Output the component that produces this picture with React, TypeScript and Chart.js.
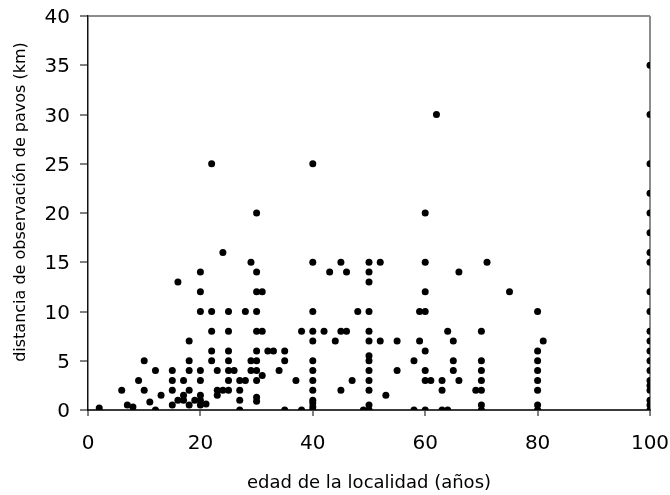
import React, { useEffect, useRef } from "react";
import { Chart, registerables } from "chart.js";

Chart.register(...registerables);

// edad de la localidad (años)
const edad: number[] = [
  2, 6, 7, 8, 9, 10, 10, 11, 12, 12, 13, 15, 15, 15, 15, 16, 16, 17, 17, 17,
  18, 18, 18, 18, 18, 19, 20, 20, 20, 20, 20, 20, 20, 20, 21, 22, 22, 22, 22, 22,
  23, 23, 23, 24, 24,
  25, 28, 30, 40, 48,
  25, 30, 31, 38, 40, 42, 45, 46,
  40, 44,
  25, 30, 32, 33, 35,
  25, 29, 30, 35, 40,
  25, 26, 29, 30, 34, 40,
  31,
  25, 27, 28, 30, 37, 40, 47,
  25, 27, 40, 45,
  27, 30, 30, 40, 40, 40, 40,
  27, 35, 38,
  29, 30, 30, 31, 30, 40, 43, 45, 46, 40,
  60, 50, 52, 60, 50, 50, 66, 60, 50, 59, 60,
  50, 64, 70, 50, 52, 55, 59, 65, 60,
  50, 50, 58, 65, 70, 50, 55, 60, 65, 70,
  50, 60, 61, 63, 66, 70, 50, 63, 69, 70,
  53, 50, 49, 50, 58, 60, 63, 64, 70, 70, 62,
  71, 75, 80, 81, 80, 80, 80, 80, 80, 80, 80,
  100, 100, 100, 100, 100, 100, 100, 100, 100, 100, 100,
  100, 100, 100, 100, 100, 100, 100, 100, 100, 100,
];

// distancia de observación de pavos (km)
const distancia: number[] = [
  0.2, 2, 0.5, 0.3, 3, 5, 2, 0.8, 4, 0, 1.5, 4, 3, 2, 0.5, 13, 1, 3, 1.5, 1,
  7, 5, 4, 2, 0.5, 1, 14, 12, 10, 4, 3, 1.5, 1, 0.5, 0.6, 25, 10, 8, 6, 5,
  4, 2, 1.5, 2, 16,
  10, 10, 10, 10, 10,
  8, 8, 8, 8, 8, 8, 8, 8,
  7, 7,
  6, 6, 6, 6, 6,
  5, 5, 5, 5, 5,
  4, 4, 4, 4, 4, 4,
  3.5,
  3, 3, 3, 3, 3, 3, 3,
  2, 2, 2, 2,
  1, 1.3, 0.9, 1, 0.7, 0.3, 0,
  0, 0, 0,
  15, 14, 12, 12, 20, 15, 14, 15, 14, 25,
  20, 15, 15, 15, 14, 13, 14, 12, 10, 10, 10,
  8, 8, 8, 7, 7, 7, 7, 7, 6,
  5.5, 5, 5, 5, 5, 4, 4, 4, 4, 4,
  3, 3, 3, 3, 3, 3, 2, 2, 2, 2,
  1.5, 0.5, 0, 0, 0, 0, 0, 0, 0, 0.5, 30,
  15, 12, 10, 7, 6, 5, 4, 3, 2, 0.5, 0,
  35, 30, 25, 22, 20, 18, 16, 15, 12, 10, 8,
  7, 6, 5, 4, 3, 2.5, 2, 1, 0.5, 0,
];

const xTicks: number[] = [0, 20, 40, 60, 80, 100];
const yTicks: number[] = [0, 5, 10, 15, 20, 25, 30, 35, 40];

const xTitle = "edad de la localidad (años)";
const yTitle = "distancia de observación de pavos (km)";

const FONT = "'DejaVu Sans', sans-serif";

export default function App() {
  const canvasRef = useRef<HTMLCanvasElement | null>(null);

  useEffect(() => {
    const canvas = canvasRef.current;
    if (!canvas) return;

    const points = edad.map((x, i) => ({ x, y: distancia[i] }));

    const yTitlePlugin = {
      id: "yTitlePlugin",
      afterDraw(chart: any) {
        const ctx = chart.ctx;
        const area = chart.chartArea;
        ctx.save();
        ctx.translate(21, (area.top + area.bottom) / 2 - 11);
        ctx.rotate(-Math.PI / 2);
        ctx.font = `16px ${FONT}`;
        ctx.fillStyle = "#000";
        ctx.textAlign = "center";
        ctx.textBaseline = "middle";
        ctx.fillText(yTitle, 0, 0);
        ctx.restore();
      },
    };

    const zeroPad = (scale: any) => {
      scale.paddingLeft = 0;
      scale.paddingRight = 0;
      scale.paddingTop = 0;
      scale.paddingBottom = 0;
    };

    const chart = new Chart(canvas, {
      type: "scatter",
      data: {
        datasets: [
          {
            data: points,
            backgroundColor: "#000",
            borderColor: "#000",
            pointRadius: 3.5,
            pointBorderWidth: 0,
            pointHoverRadius: 3.5,
          },
        ],
      },
      options: {
        responsive: false,
        animation: false,
        events: [],
        layout: { padding: { top: 16, right: 20, left: 0, bottom: 0 } },
        plugins: {
          legend: { display: false },
          tooltip: { enabled: false },
        },
        scales: {
          x: {
            type: "linear",
            min: 0,
            max: 100,
            afterBuildTicks: (scale: any) => {
              scale.ticks = xTicks.map((v) => ({ value: v }));
            },
            afterFit: (scale: any) => {
              scale.height = 85;
              zeroPad(scale);
            },
            ticks: {
              color: "#000",
              padding: 16,
              font: { family: FONT, size: 20 },
              maxRotation: 0,
            },
            grid: {
              drawOnChartArea: true,
              color: (c: any) =>
                c.tick && c.tick.value === 100 ? "#8c8c8c" : "rgba(0,0,0,0)",
              lineWidth: 2,
              tickColor: "#000",
              tickLength: 6,
              tickWidth: 1,
            },
            border: { color: "#3a3a3a", width: 2 },
            title: {
              display: true,
              text: xTitle,
              color: "#000",
              font: { family: FONT, size: 18 },
              padding: { top: 0, bottom: 1 },
            },
          },
          y: {
            type: "linear",
            min: 0,
            max: 40,
            afterBuildTicks: (scale: any) => {
              scale.ticks = yTicks.map((v) => ({ value: v }));
            },
            afterFit: (scale: any) => {
              scale.width = 88;
              zeroPad(scale);
            },
            ticks: {
              color: "#000",
              padding: 10,
              labelOffset: 2,
              font: { family: FONT, size: 20 },
            },
            grid: {
              drawOnChartArea: true,
              color: (c: any) =>
                c.tick && c.tick.value === 40 ? "#8c8c8c" : "rgba(0,0,0,0)",
              lineWidth: 2,
              tickColor: "#000",
              tickLength: 8,
              tickWidth: 1,
            },
            border: { color: "#111", width: 1.5 },
            title: { display: false },
          },
        },
      },
      plugins: [yTitlePlugin],
    } as any);

    return () => chart.destroy();
  }, []);

  return (
    <div style={{ position: "absolute", left: 0, top: 0, width: 670, height: 495, background: "#fff" }}>
      <canvas ref={canvasRef} width={670} height={495} style={{ display: "block" }} />
    </div>
  );
}
